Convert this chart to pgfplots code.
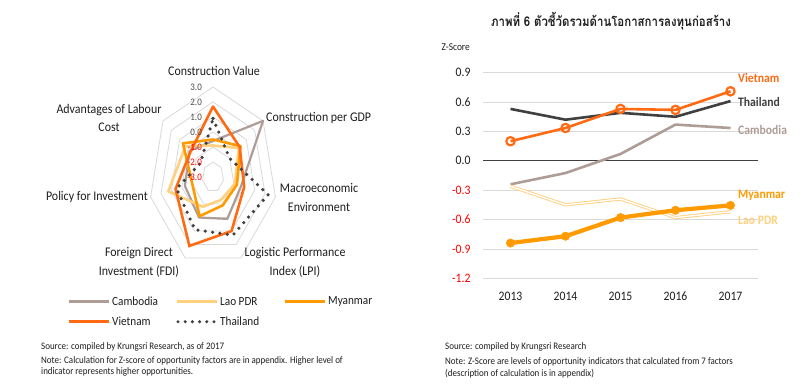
\documentclass[border=0pt]{standalone}
\usepackage{pgfplots}
\pgfplotsset{compat=1.18}
\usepackage{pgfplotstable}
\usepackage{fontspec}
\setmainfont{Carlito}[FakeStretch=0.9]
\newfontfamily\thaifont[Script=Thai, FakeStretch=0.85]{Loma}
\definecolor{cVN}{HTML}{FF6A13}
\definecolor{cMM}{HTML}{FF9A00}
\definecolor{cLA}{HTML}{FFD07E}
\definecolor{cKH}{HTML}{AE9C96}
\definecolor{cTH}{HTML}{404040}
\definecolor{cGrid}{HTML}{D9D9D9}
\definecolor{cTxt}{HTML}{1E1E1E}
\definecolor{cRed}{HTML}{FF0000}

% ---------- radar data (angle of spoke, z-score) ----------
\pgfplotstableread{
a v
90 -0.6
38.5714 3.0
-12.8571 -0.3
-64.2857 0.1
-115.7143 0.0
-167.1429 -0.3
-218.5714 -0.2
-270 -0.6
}\radarKH
\pgfplotstableread{
a v
90 -0.9
38.5714 0.1
-12.8571 -0.9
-64.2857 -1.3
-115.7143 -0.8
-167.1429 1.3
-218.5714 0.3
-270 -0.9
}\radarLA
\pgfplotstableread{
a v
90 -0.5
38.5714 0.3
-12.8571 -0.7
-64.2857 -0.9
-115.7143 -0.1
-167.1429 -1.0
-218.5714 0.6
-270 -0.5
}\radarMM
\pgfplotstableread{
a v
90 1.7
38.5714 0.2
-12.8571 0.0
-64.2857 1.0
-115.7143 2.1
-167.1429 0.6
-218.5714 -0.3
-270 1.7
}\radarVN
\pgfplotstableread{
a v
90 0.9
38.5714 -1.0
-12.8571 2.3
-64.2857 1.3
-115.7143 0.9
-167.1429 0.5
-218.5714 -1.5
-270 0.9
}\radarTH

% ---------- trend data ----------
\pgfplotstableread{
year VN TH KH MM LA
2013 0.20 0.53 -0.24 -0.84 -0.26
2014 0.335 0.42 -0.125 -0.77 -0.45
2015 0.53 0.49 0.07 -0.58 -0.39
2016 0.52 0.45 0.37 -0.505 -0.58
2017 0.71 0.61 0.335 -0.455 -0.52
}\trend

\begin{document}
\begin{tikzpicture}[x=1bp,y=1bp]
\fill[white] (0,0) rectangle (800,389);
\path[use as bounding box] (0,0) rectangle (800,389);

% ===== radar rings =====
\foreach \r in {1,...,6}{
  \draw[cGrid, line width=0.8bp, line join=miter]
    ({213+\r*64/6*cos(90)},{212+\r*15*sin(90)})
    \foreach \k in {1,...,6}{ -- ({213+\r*64/6*cos(90-\k*360/7)},{212+\r*15*sin(90-\k*360/7)}) } -- cycle;
}

\begin{axis}[at={(213bp,212bp)}, anchor=center, scale only axis,
  width=128bp, height=180bp, xmin=-6, xmax=6, ymin=-6, ymax=6,
  hide axis, clip=false]
\addplot[cKH, line width=2.2bp, line join=round, line cap=round] table[x expr={(\thisrow{v}+3)*cos(\thisrow{a})}, y expr={(\thisrow{v}+3)*sin(\thisrow{a})}] {\radarKH};
\addplot[cLA, line width=2.6bp, line join=round, line cap=round] table[x expr={(\thisrow{v}+3)*cos(\thisrow{a})}, y expr={(\thisrow{v}+3)*sin(\thisrow{a})}] {\radarLA};
\addplot[cMM, line width=2.6bp, line join=round, line cap=round] table[x expr={(\thisrow{v}+3)*cos(\thisrow{a})}, y expr={(\thisrow{v}+3)*sin(\thisrow{a})}] {\radarMM};
\addplot[cVN, line width=2.6bp, line join=miter, line cap=round] table[x expr={(\thisrow{v}+3)*cos(\thisrow{a})}, y expr={(\thisrow{v}+3)*sin(\thisrow{a})}] {\radarVN};
\addplot[cTH, line width=3.6bp, dash pattern=on 0pt off 7.4bp, line cap=round] table[x expr={(\thisrow{v}+3)*cos(\thisrow{a})}, y expr={(\thisrow{v}+3)*sin(\thisrow{a})}] {\radarTH};
\end{axis}

% radar value labels
\begin{scope}[font=\fontsize{10}{11}\selectfont]
\node[anchor=east, text=cTxt!80, inner sep=0] at (202,302) {3.0};
\node[anchor=east, text=cTxt!80, inner sep=0] at (202,287) {2.0};
\node[anchor=east, text=cTxt!80, inner sep=0] at (202,272) {1.0};
\node[anchor=east, text=cTxt!80, inner sep=0] at (202,257) {0.0};
\node[anchor=east, text=cRed, inner sep=0] at (202,242) {-1.0};
\node[anchor=east, text=cRed, inner sep=0] at (202,227) {-2.0};
\node[anchor=east, text=cRed, inner sep=0] at (202,212) {-3.0};
\end{scope}

% radar category labels
\begin{scope}[font=\fontsize{13.3}{18.5}\selectfont, text=cTxt, inner sep=0]
\node at (214,318) {Construction Value};
\node[anchor=west] at (266,271) {Construction per GDP};
\node[align=center] at (319,191.5) {Macroeconomic\\Environment};
\node[align=center] at (295,126.5) {Logistic Performance\\Index (LPI)};
\node[align=center] at (139,126.5) {Foreign Direct\\Investment (FDI)};
\node[anchor=east] at (148,192) {Policy for Investment};
\node[align=center] at (109,271) {Advantages of Labour\\Cost};
\end{scope}

% radar legend
\begin{scope}[font=\fontsize{12.5}{14}\selectfont, text=cTxt]
\draw[cKH, line width=2.6bp] (69,87.3) -- (109,87.3);
\node[anchor=west, inner sep=0] at (112,87.3) {Cambodia};
\draw[cLA, line width=2.6bp] (177,87.3) -- (217,87.3);
\node[anchor=west, inner sep=0] at (220,87.3) {Lao PDR};
\draw[cMM, line width=2.6bp] (285,87.3) -- (325,87.3);
\node[anchor=west, inner sep=0] at (328,87.3) {Myanmar};
\draw[cVN, line width=2.6bp] (69,67.3) -- (109,67.3);
\node[anchor=west, inner sep=0] at (112,67.3) {Vietnam};
\draw[cTH, line width=3.4bp, dash pattern=on 0pt off 7.2bp, line cap=round] (178,67.3) -- (215,67.3);
\node[anchor=west, inner sep=0] at (220,67.3) {Thailand};
\end{scope}

% left notes
\begin{scope}[font=\fontsize{10}{12}\selectfont, text=cTxt, inner sep=0]
\node[anchor=west] at (41,42.3) {Source: compiled by Krungsri Research, as of 2017};
\node[anchor=west] at (41,28) {Note: Calculation for Z-score of opportunity factors are in appendix. Higher level of};
\node[anchor=west] at (41,17) {indicator represents higher opportunities.};
\end{scope}

% ===== right line chart =====
\begin{axis}[at={(483bp,110.7bp)}, anchor=south west, scale only axis,
  width=275bp, height=205.6bp,
  xmin=2012.5, xmax=2017.5, ymin=-1.2, ymax=0.9,
  axis line style={draw=none}, major tick length=0pt,
  xtick={2013,2014,2015,2016,2017},
  xticklabels={2013,2014,2015,2016,2017},
  ytick={-1.2,-0.9,-0.6,-0.3,0,0.3,0.6,0.9},
  yticklabels={{\textcolor{cRed}{-1.2}},{\textcolor{cRed}{-0.9}},{\textcolor{cRed}{-0.6}},{\textcolor{cRed}{-0.3}},0.0,0.3,0.6,0.9},
  ymajorgrids, grid style={cGrid, line width=0.8bp},
  tick label style={font=\fontsize{13}{15}\selectfont, text=cTxt},
  yticklabel style={xshift=-9bp},
  xticklabel style={yshift=-10bp},
  clip=false]
\draw[black!75, line width=0.9bp] (axis cs:2012.5,0) -- (axis cs:2017.5,0);
\addplot[cKH, line width=2.6bp, line join=round] table[x=year, y=KH] {\trend};
\addplot[cLA, line width=0.9bp, double=white, double distance=1.4bp, line join=round] table[x=year, y=LA] {\trend};
\addplot[cMM, line width=4.2bp, line join=round, mark=*, mark size=4.2bp, mark options={fill=cMM, draw=cMM, line width=0.5bp}] table[x=year, y=MM] {\trend};
\addplot[cTH, line width=2.6bp, line join=round] table[x=year, y=TH] {\trend};
\addplot[cVN, line width=2.6bp, line join=round, mark=o, mark size=4.2bp, mark options={fill=white, draw=cVN, line width=2.2bp}] table[x=year, y=VN] {\trend};
\end{axis}

% series labels
\begin{scope}[font=\fontsize{13}{15}\selectfont\bfseries, inner sep=0]
\node[anchor=west, text=cVN] at (738,311) {Vietnam};
\node[anchor=west, text=cTH] at (738,287.3) {Thailand};
\node[anchor=west, text=cKH] at (738,259) {Cambodia};
\node[anchor=west, text=cMM] at (738,194) {Myanmar};
\node[anchor=west, text=cLA] at (738,169) {Lao PDR};
\end{scope}

% title and y label
\node[font=\fontsize{13.5}{16}\selectfont\thaifont\bfseries, text=cTxt, inner sep=0] at (611,368) {ภาพที่ 6 ตัวชี้วัดรวมด้านโอกาสการลงทุนก่อสร้าง};
\node[font=\fontsize{10.5}{12}\selectfont, text=cTxt, inner sep=0, anchor=west] at (441.5,342) {Z-Score};

% right notes
\begin{scope}[font=\fontsize{10}{12}\selectfont, text=cTxt, inner sep=0]
\node[anchor=west] at (445,42.3) {Source: compiled by Krungsri Research};
\node[anchor=west] at (445,27.3) {Note: Z-Score are levels of opportunity indicators that calculated from 7 factors};
\node[anchor=west] at (445,15.5) {(description of calculation is in appendix)};
\end{scope}
\end{tikzpicture}
\end{document}
